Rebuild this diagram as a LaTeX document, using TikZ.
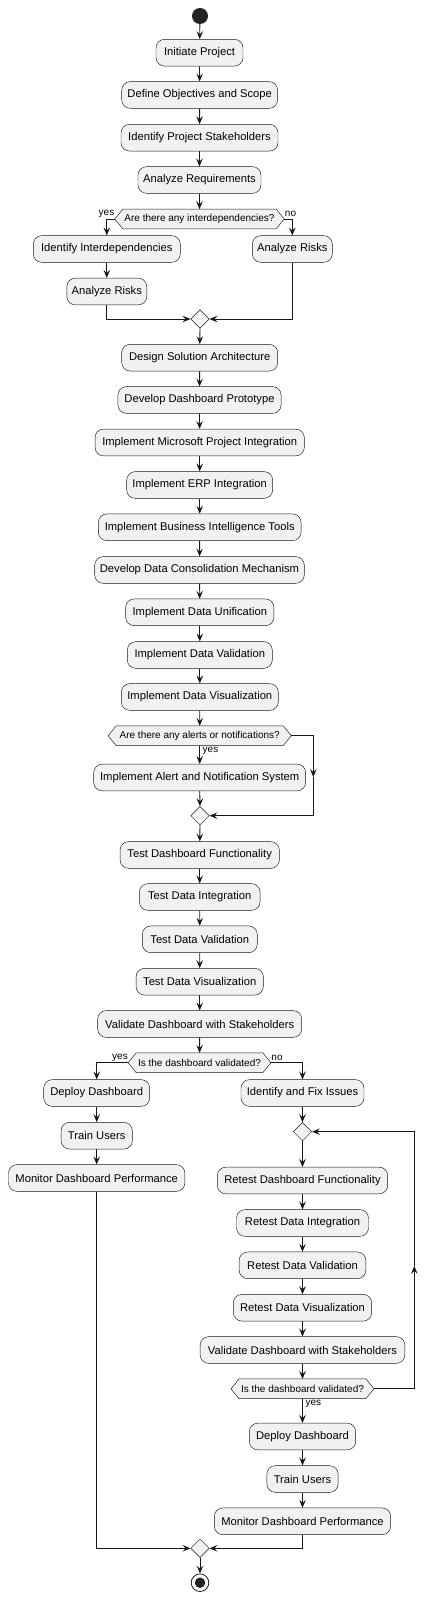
\documentclass[tikz,border=0pt]{standalone}
\usepackage{fontspec}
\setmainfont{Liberation Sans}
\usetikzlibrary{arrows.meta,shapes.geometric,backgrounds}
\definecolor{boxfill}{HTML}{F1F1F1}
\definecolor{linec}{HTML}{181818}
\definecolor{startc}{HTML}{222222}
\tikzset{
  act/.style={draw=linec,line width=0.45pt,fill=boxfill,rounded corners=8.5pt,
    minimum height=26.7pt,inner sep=0pt,font=\fontsize{11.2}{13}\selectfont},
  hexnode/.style={draw=none,minimum height=19.3pt,inner sep=0pt,font=\fontsize{10}{12}\selectfont},
  hexline/.style={draw=linec,line width=0.45pt,fill=boxfill},
  mergenode/.style={shape=diamond,draw=linec,line width=0.45pt,fill=boxfill,
    minimum width=18.6pt,minimum height=18.6pt,inner sep=0pt},
  lbl/.style={inner sep=0pt,font=\fontsize{10}{12}\selectfont},
  arr/.style={draw=linec,line width=0.8pt,-{Stealth[length=8pt,width=6.6pt,inset=3.2pt]}},
  ln/.style={draw=linec,line width=0.8pt}
}
\newcommand\hexdraw[1]{\begin{scope}[on background layer]
  \path[hexline] (#1.west) -- ([xshift=8pt]#1.north west) -- ([xshift=-8pt]#1.north east)
   -- (#1.east) -- ([xshift=-8pt]#1.south east) -- ([xshift=8pt]#1.south west) -- cycle;
  \end{scope}}
\begin{document}
\begin{tikzpicture}[x=1pt,y=-1pt]
\useasboundingbox (0,0) rectangle (435,1600);
% start
\node[circle,fill=startc,minimum size=16pt,inner sep=0pt] (start) at (200,16) {};
\node[act,minimum width=87pt] (n1) at (199.5,52.7) {Initiate Project};
\node[act,minimum width=156pt] (n2) at (199.7,95) {Define Objectives and Scope};
\node[act,minimum width=157pt] (n3) at (199.5,137.7) {Identify Project Stakeholders};
\node[act,minimum width=123pt] (n4) at (199.5,180) {Analyze Requirements};
\node[hexnode,minimum width=169pt] (d1) at (199.5,219) {Are there any interdependencies?};
\hexdraw{d1}
\node[act,minimum width=147pt] (n5) at (106.8,249) {Identify Interdependencies};
\node[act,minimum width=80pt] (n6) at (292.3,249) {Analyze Risks};
\node[act,minimum width=80pt] (n7) at (106.8,291.5) {Analyze Risks};
\node[mergenode] (m1) at (200,319) {};
\node[act,minimum width=156pt] (n8) at (199.7,357.7) {Design Solution Architecture};
\node[act,minimum width=163.3pt] (n9) at (199.5,400) {Develop Dashboard Prototype};
\node[act,minimum width=209.3pt] (n10) at (199.7,442.5) {Implement Microsoft Project Integration};
\node[act,minimum width=146pt] (n11) at (199.7,485) {Implement ERP Integration};
\node[act,minimum width=202.7pt] (n12) at (199.7,527.3) {Implement Business Intelligence Tools};
\node[act,minimum width=209.6pt] (n13) at (199.5,570) {Develop Data Consolidation Mechanism};
\node[act,minimum width=148.3pt] (n14) at (199.8,612.3) {Implement Data Unification};
\node[act,minimum width=145pt] (n15) at (199.8,655) {Implement Data Validation};
\node[act,minimum width=157pt] (n16) at (199.8,697) {Implement Data Visualization};
\node[hexnode,minimum width=182.7pt] (d2) at (199.7,735.7) {Are there any alerts or notifications?};
\hexdraw{d2}
\node[act,minimum width=212pt] (n17) at (199.7,777.5) {Implement Alert and Notification System};
\node[mergenode] (m2) at (200,815.7) {};
\node[act,minimum width=159.3pt] (n18) at (199.7,855) {Test Dashboard Functionality};
\node[act,minimum width=120.7pt] (n19) at (199.7,897) {Test Data Integration};
\node[act,minimum width=115pt] (n20) at (199.8,939.3) {Test Data Validation};
\node[act,minimum width=127.3pt] (n21) at (199.7,981.7) {Test Data Visualization};
\node[act,minimum width=204pt] (n22) at (199.7,1024) {Validate Dashboard with Stakeholders};
\node[hexnode,minimum width=142.4pt] (d3) at (199.5,1062.7) {Is the dashboard validated?};
\hexdraw{d3}
\node[act,minimum width=106pt] (n23) at (96.7,1093) {Deploy Dashboard};
\node[act,minimum width=123pt] (n24) at (302.5,1093) {Identify and Fix Issues};
\node[act,minimum width=71.3pt] (n25) at (96.7,1135.7) {Train Users};
\node[act,minimum width=176.4pt] (n26) at (96.7,1178) {Monitor Dashboard Performance};
\node[mergenode] (m3) at (302.5,1131.7) {};
\node[act,minimum width=170.4pt] (n27) at (302.5,1180.5) {Retest Dashboard Functionality};
\node[act,minimum width=132pt] (n28) at (302.5,1223) {Retest Data Integration};
\node[act,minimum width=126.7pt] (n29) at (302.5,1265.3) {Retest Data Validation};
\node[act,minimum width=138.4pt] (n30) at (302.5,1307.7) {Retest Data Visualization};
\node[act,minimum width=204.7pt] (n31) at (302.5,1350) {Validate Dashboard with Stakeholders};
\node[hexnode,minimum width=142.7pt] (d4) at (302.5,1388.8) {Is the dashboard validated?};
\hexdraw{d4}
\node[act,minimum width=106.4pt] (n32) at (302.5,1436.5) {Deploy Dashboard};
\node[act,minimum width=71.3pt] (n33) at (302.5,1479) {Train Users};
\node[act,minimum width=176.4pt] (n34) at (302.5,1521.3) {Monitor Dashboard Performance};
\node[mergenode] (m4) at (200,1548.3) {};
\node[circle,draw=linec,line width=0.8pt,fill=white,minimum size=17.6pt,inner sep=0pt] (endo) at (200,1582.7) {};
\node[circle,fill=startc,minimum size=10.5pt,inner sep=0pt] (endi) at (200,1582.7) {};
% labels
\node[lbl] (y1) at (106.5,214) {yes};
\node[lbl] (no1) at (290.5,214) {no};
\node[lbl] (y2) at (210.5,750.5) {yes};
\node[lbl] (y3) at (120,1058.3) {yes};
\node[lbl] (no3) at (277,1058.3) {no};
\node[lbl] (y4) at (313.3,1403.5) {yes};
% helper coordinates
\coordinate (c2a) at (313.3,777);
\coordinate (c4a) at (414.3,1266);
% connectors
\draw[arr] (start) -- (n1);
\draw[arr] (n1) -- (n2);
\draw[arr] (n2) -- (n3);
\draw[arr] (n3) -- (n4);
\draw[arr] (n4) -- (d1);
\draw[arr] (d1.west) -| (n5.north);
\draw[arr] (d1.east) -| (n6.north);
\draw[arr] (n5) -- (n7);
\draw[arr] (n7.south) |- (m1.west);
\draw[arr] (n6.south) |- (m1.east);
\draw[arr] (m1) -- (n8);
\draw[arr] (n8) -- (n9);
\draw[arr] (n9) -- (n10);
\draw[arr] (n10) -- (n11);
\draw[arr] (n11) -- (n12);
\draw[arr] (n12) -- (n13);
\draw[arr] (n13) -- (n14);
\draw[arr] (n14) -- (n15);
\draw[arr] (n15) -- (n16);
\draw[arr] (n16) -- (d2);
\draw[arr] (d2) -- (n17);
\draw[arr] (n17) -- (m2);
\draw[arr] (d2.east) -| (c2a);
\draw[arr] (c2a) |- (m2.east);
\draw[arr] (m2) -- (n18);
\draw[arr] (n18) -- (n19);
\draw[arr] (n19) -- (n20);
\draw[arr] (n20) -- (n21);
\draw[arr] (n21) -- (n22);
\draw[arr] (n22) -- (d3);
\draw[arr] (d3.west) -| (n23.north);
\draw[arr] (d3.east) -| (n24.north);
\draw[arr] (n23) -- (n25);
\draw[arr] (n25) -- (n26);
\draw[arr] (n24) -- (m3);
\draw[arr] (m3) -- (n27);
\draw[arr] (n27) -- (n28);
\draw[arr] (n28) -- (n29);
\draw[arr] (n29) -- (n30);
\draw[arr] (n30) -- (n31);
\draw[arr] (n31) -- (d4);
\draw[arr] (d4) -- (n32);
\draw[arr] (n32) -- (n33);
\draw[arr] (n33) -- (n34);
\draw[arr] (d4.east) -| (c4a);
\draw[arr] (c4a) |- (m3.east);
\draw[arr] (n26.south) |- (m4.west);
\draw[arr] (n34.south) |- (m4.east);
\draw[arr] (m4) -- (endo);
\end{tikzpicture}
\end{document}
